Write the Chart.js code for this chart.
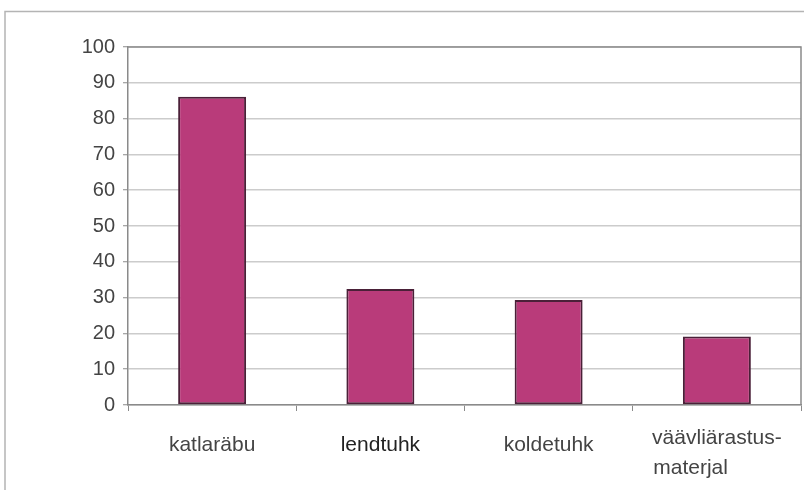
<!DOCTYPE html>
<html>
<head>
<meta charset="utf-8">
<script src="https://cdn.jsdelivr.net/npm/chart.js@4/dist/chart.umd.min.js"></script>
<style>
html,body{margin:0;padding:0;background:#fff;}
#wrap{width:804px;height:490px;}
</style>
</head>
<body>
<div id="wrap"><canvas id="c" width="804" height="490"></canvas></div>
<script>
const categories = ["katlaräbu", "lendtuhk", "koldetuhk", ["väävliärastus-", "materjal"]];
const values = [86.1, 32.4, 29.3, 19.1];
const yTicks = { min: 0, max: 100, step: 10 };

const FAMILY = '"Liberation Sans", Arial, sans-serif';
const XSIZE = 21;

// left-align lines of multi-line labels by padding shorter lines with trailing spaces
const mctx = document.createElement('canvas').getContext('2d');
mctx.font = XSIZE + 'px ' + FAMILY;
function leftAlign(lines) {
  if (!Array.isArray(lines)) return lines;
  const w = Math.max(...lines.map(l => mctx.measureText(l).width));
  return lines.map(l => {
    let s = l;
    while (mctx.measureText(s + ' ').width <= w + 1) s += ' ';
    return s;
  });
}

const frame = {
  id: 'frame',
  beforeDraw(chart) {
    const ctx = chart.ctx;
    ctx.save();
    ctx.fillStyle = '#fff';
    ctx.fillRect(0, 0, chart.width, chart.height);
    ctx.strokeStyle = '#b4b4b4';
    ctx.lineWidth = 1.5;
    ctx.beginPath();
    ctx.moveTo(5, 490);
    ctx.lineTo(5, 11.5);
    ctx.lineTo(804, 11.5);
    ctx.stroke();
    ctx.restore();
  },
  afterDatasetsDraw(chart) {
    const a = chart.chartArea, ctx = chart.ctx;
    ctx.save();
    ctx.strokeStyle = '#8a8a8a';
    ctx.lineWidth = 1.5;
    ctx.beginPath();
    ctx.moveTo(a.left, a.top);
    ctx.lineTo(a.right, a.top);
    ctx.lineTo(a.right, a.bottom);
    ctx.stroke();
    ctx.restore();
  }
};

new Chart(document.getElementById('c'), {
  type: 'bar',
  data: {
    labels: categories,
    datasets: [{
      data: values,
      backgroundColor: '#b93b7a',
      borderColor: '#4a2038',
      borderWidth: 2,
      borderSkipped: false,
      categoryPercentage: 1,
      barPercentage: 0.404
    }]
  },
  options: {
    responsive: false,
    animation: false,
    devicePixelRatio: 1,
    layout: { padding: { top: 47, right: 3, left: 0, bottom: 0 } },
    plugins: { legend: { display: false }, tooltip: { enabled: false } },
    scales: {
      x: {
        grid: { offset: true, drawOnChartArea: false, drawTicks: true, tickLength: 6, color: '#8a8a8a', lineWidth: 1 },
        border: { color: '#8a8a8a', width: 1.5 },
        ticks: {
          padding: 12,
          maxRotation: 0,
          autoSkip: false,
          callback: function (v, i) { return leftAlign(this.getLabelForValue(v)); },
          color: (c) => c.index === 1 ? '#222' : '#444',
          font: (c) => ({ family: FAMILY, size: XSIZE, lineHeight: c.index === 3 ? 1.45 : 2.1 })
        },
        afterFit(s) { s.height = 85; }
      },
      y: {
        min: yTicks.min,
        max: yTicks.max,
        ticks: {
          stepSize: yTicks.step,
          padding: 8,
          color: '#444',
          font: { family: FAMILY, size: 20 }
        },
        grid: { color: '#cccccc', lineWidth: 1.5, tickLength: 5, tickColor: '#8a8a8a', tickWidth: 1 },
        border: { color: '#8a8a8a', width: 1.5 },
        afterFit(s) { s.width = 128; }
      }
    }
  },
  plugins: [frame]
});
</script>
</body>
</html>
